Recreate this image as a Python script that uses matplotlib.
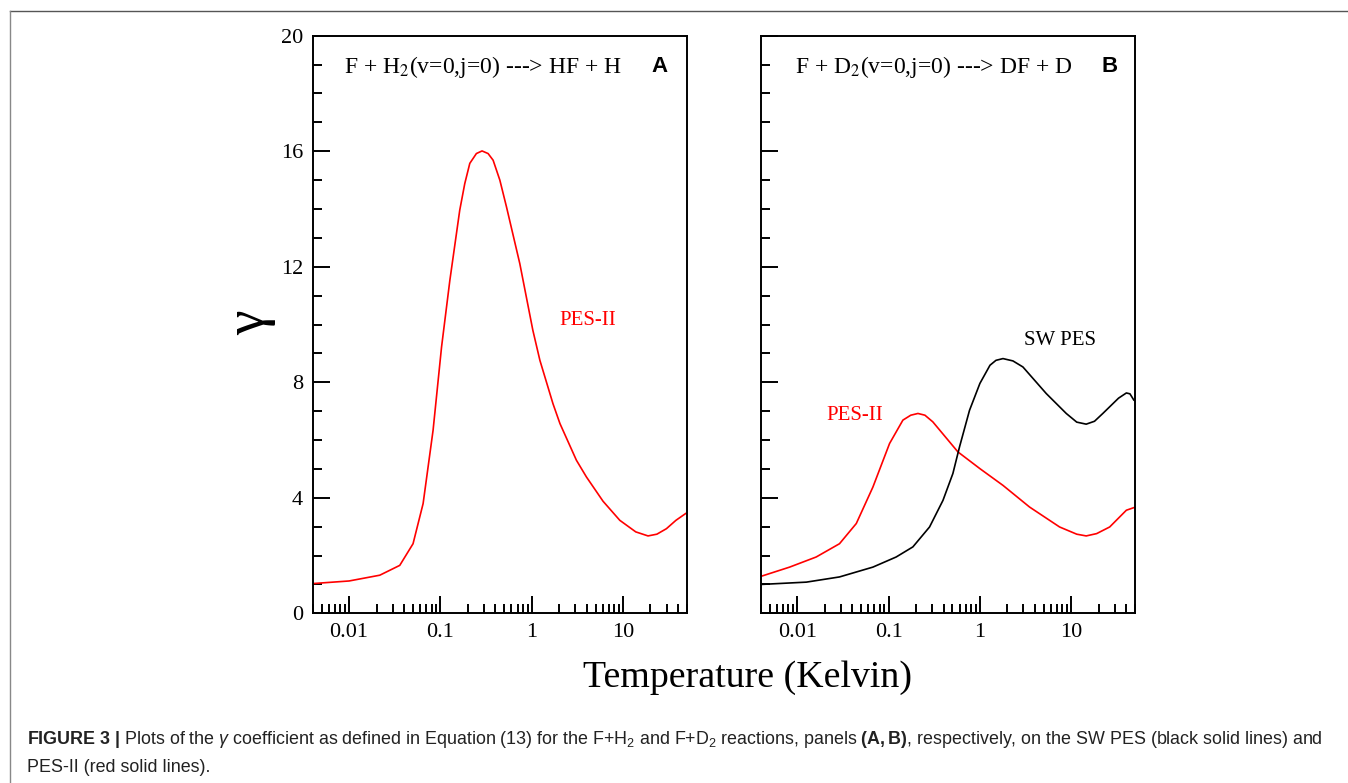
import matplotlib
matplotlib.use("Agg")
import matplotlib.pyplot as plt
from matplotlib.ticker import MultipleLocator, FixedLocator, LogLocator, NullFormatter, FuncFormatter
from matplotlib.lines import Line2D

# Panel A: F + H2, PES-II
T_A = [0.004, 0.01, 0.0217, 0.0359, 0.0502, 0.0647, 0.0832, 0.103, 0.127, 0.163,
       0.185, 0.21, 0.248, 0.286, 0.333, 0.378, 0.448, 0.53, 0.741, 1.03, 1.23, 1.71,
       2.04, 3.09, 3.98, 6.05, 9.23, 13.8, 18.8, 23.5, 29.9, 38.0, 48.3, 50.0]
G_A_PES2 = [1.03, 1.12, 1.32, 1.66, 2.41, 3.80, 6.34, 9.22, 11.53, 13.96,
            14.88, 15.58, 15.92, 16.01, 15.92, 15.69, 15.00, 14.07, 12.11, 9.80, 8.76, 7.26,
            6.57, 5.30, 4.72, 3.88, 3.22, 2.82, 2.68, 2.74, 2.93, 3.22, 3.45, 3.48]

# Panel B: F + D2, PES-II (red)
T_B_PES2 = [0.004, 0.00824, 0.0161, 0.029, 0.0443, 0.0673, 0.1025, 0.1435, 0.175, 0.2096,
            0.25, 0.305, 0.574, 1.0, 1.79, 3.5, 7.46, 11.5, 14.6, 19.0, 26.4, 40.2, 48.6, 50.0]
G_B_PES2 = [1.28, 1.60, 1.95, 2.41, 3.11, 4.37, 5.88, 6.69, 6.86, 6.92,
            6.86, 6.63, 5.59, 5.01, 4.43, 3.68, 2.99, 2.74, 2.68, 2.76, 2.99, 3.57, 3.66, 3.66]

# Panel B: F + D2, SW PES (black)
T_B_SW = [0.004, 0.01257, 0.029, 0.0673, 0.121, 0.1845, 0.281, 0.394, 0.506, 0.598,
          0.77, 1.0, 1.29, 1.5, 1.79, 2.3, 2.96, 5.33, 8.83, 11.5, 14.6, 18.0, 22.2,
          33.0, 40.2, 44.0, 48.6, 50.0]
G_B_SW = [1.00, 1.08, 1.26, 1.60, 1.95, 2.30, 2.99, 3.91, 4.84, 5.76,
          7.03, 7.96, 8.59, 8.76, 8.82, 8.74, 8.53, 7.61, 6.92, 6.62, 6.55, 6.65, 6.92,
          7.45, 7.63, 7.60, 7.38, 7.36]

X_TICKS = [0.01, 0.1, 1, 10]
X_TICK_LABELS = ["0.01", "0.1", "1", "10"]

TITLE_A = r"F + H$_2$(v=0,j=0) ---> HF + H"
TITLE_B = r"F + D$_2$(v=0,j=0) ---> DF + D"

CAPTION_1 = (r"$\mathbf{FIGURE\ 3\ |}$ Plots of the $\gamma$ coefficient as defined in Equation (13) "
             r"for the F+H$_2$ and F+D$_2$ reactions, panels $\mathbf{(A,B)}$, respectively, "
             r"on the SW PES (black solid lines) and")
CAPTION_2 = "PES-II (red solid lines)."

SERIF = "Liberation Serif"
RED = "#ff0000"

plt.rcParams["font.family"] = [SERIF, "DejaVu Serif"]
plt.rcParams["mathtext.fontset"] = "custom"
plt.rcParams["mathtext.rm"] = "Liberation Sans"
plt.rcParams["mathtext.it"] = "Liberation Sans:italic"
plt.rcParams["mathtext.bf"] = "Liberation Sans:bold"


def style_axis(ax, show_ylabels):
    ax.set_xscale("log")
    ax.set_xlim(0.004, 50)
    ax.set_ylim(0, 20)
    ax.xaxis.set_major_locator(FixedLocator(X_TICKS))
    ax.xaxis.set_major_formatter(FuncFormatter(
        lambda v, p: X_TICK_LABELS[X_TICKS.index(v)] if v in X_TICKS else ""))
    ax.xaxis.set_minor_locator(LogLocator(base=10, subs=range(2, 10), numticks=20))
    ax.xaxis.set_minor_formatter(NullFormatter())
    ax.yaxis.set_major_locator(MultipleLocator(4))
    ax.yaxis.set_minor_locator(MultipleLocator(1))
    ax.tick_params(which="both", direction="in", top=False, right=False, width=1.4)
    ax.tick_params(which="major", length=12, labelsize=16, pad=7)
    ax.tick_params(which="minor", length=6.5)
    if not show_ylabels:
        ax.tick_params(axis="y", labelleft=False)
    for s in ax.spines.values():
        s.set_linewidth(1.4)


def main():
    fig = plt.figure(figsize=(13.48, 7.83), dpi=100)
    ax_a = fig.add_axes([0.232, 0.2167, 0.2775, 0.7377])
    ax_b = fig.add_axes([0.5645, 0.2167, 0.2775, 0.7377])

    style_axis(ax_a, True)
    style_axis(ax_b, False)

    ax_a.plot(T_A, G_A_PES2, color=RED, linewidth=1.2)
    ax_b.plot(T_B_PES2, G_B_PES2, color=RED, linewidth=1.2)
    ax_b.plot(T_B_SW, G_B_SW, color="black", linewidth=1.2)

    ax_a.text(4.11, 10.15, "PES-II", color=RED, fontsize=15, ha="center", va="center")
    ax_b.text(0.0425, 6.86, "PES-II", color=RED, fontsize=15, ha="center", va="center")
    ax_b.text(7.46, 9.46, "SW PES", color="black", fontsize=15, ha="center", va="center")

    for ax, title, letter, x0, xl in [(ax_a, TITLE_A, "A", 0.084, 0.927),
                                      (ax_b, TITLE_B, "B", 0.091, 0.932)]:
        ax.text(x0, 0.946, title, transform=ax.transAxes, fontsize=17,
                ha="left", va="center", math_fontfamily="stix")
        ax.text(xl, 0.946, letter, transform=ax.transAxes, fontsize=16,
                fontweight="bold", family="Liberation Sans", ha="center", va="center")

    fig.text(250 / 1348, 1 - 323 / 783, "γ", fontsize=40, rotation=90,
             ha="center", va="center")
    fig.text(748 / 1348, 1 - 678 / 783, "Temperature (Kelvin)", fontsize=27.3,
             ha="center", va="center")

    fig.text(27 / 1348, 1 - 739 / 783, CAPTION_1, fontsize=12.9,
             family="Liberation Sans", color="#222222", ha="left", va="center")
    fig.text(27 / 1348, 1 - 767 / 783, CAPTION_2, fontsize=12.9,
             family="Liberation Sans", color="#222222", ha="left", va="center")

    # frame lines (top and left) around the figure block
    fig.add_artist(Line2D([9.5 / 1348, 1.0], [1 - 10.5 / 783, 1 - 10.5 / 783],
                          transform=fig.transFigure, color="#555555", linewidth=1.0))
    fig.add_artist(Line2D([9.5 / 1348, 9.5 / 1348], [0.0, 1 - 10.5 / 783],
                          transform=fig.transFigure, color="#888888", linewidth=1.0))

    fig.savefig("out.png", dpi=100)


if __name__ == "__main__":
    main()
